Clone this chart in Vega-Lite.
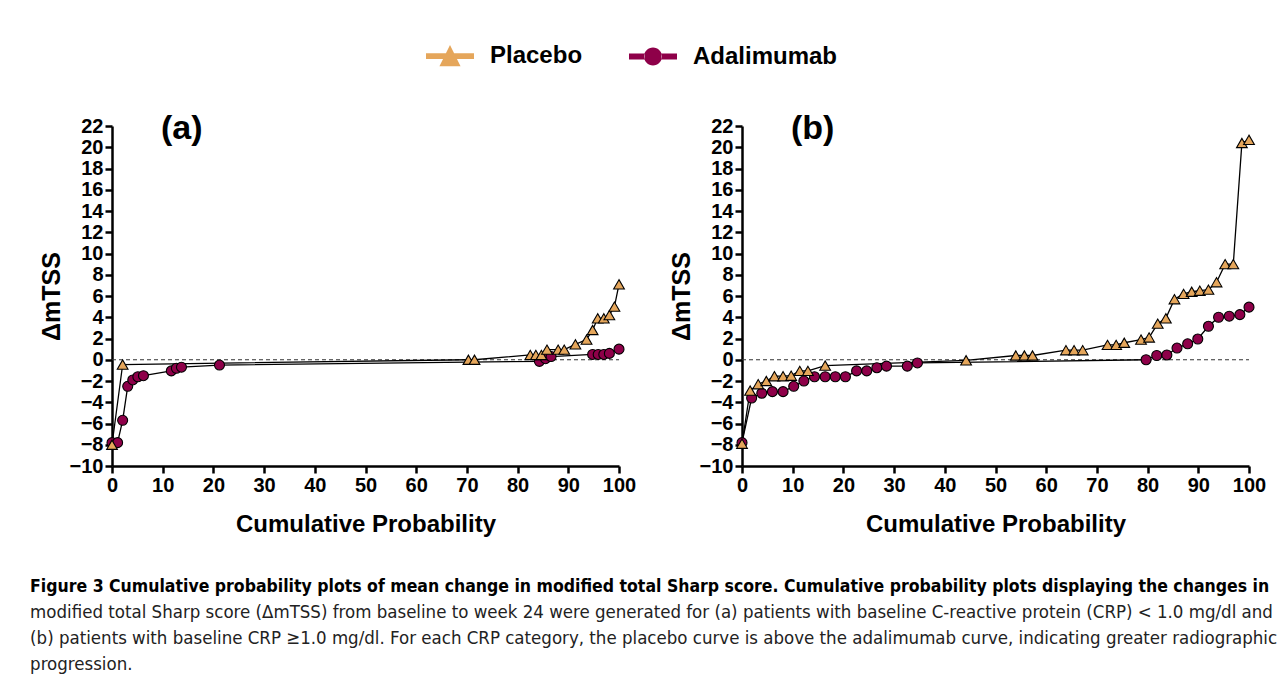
{
  "$schema": "https://vega.github.io/schema/vega-lite/v6.json",
  "background": "white",
  "padding": {"left": 30, "top": 31, "right": 14, "bottom": 6},
  "config": {
    "font": "Liberation Sans",
    "view": {"stroke": null},
    "axis": {"domainColor": "black", "domainWidth": 2.5, "tickColor": "black", "tickWidth": 2.5, "tickSize": 7, "labelFontSize": 20, "labelFontWeight": "bold", "labelColor": "black", "labelFlush": false, "labelOverlap": false, "labelBound": false, "grid": false, "titleFontSize": 25, "titleFontWeight": "bold", "titleColor": "black", "labelPadding": 2},
    "axisY": {"titlePadding": 5},
    "axisX": {"titlePadding": 17, "titleFontSize": 24}
  },
  "datasets": {
    "d": [
      {"panel": "a", "group": "Adalimumab", "p": 0, "v": -7.8},
      {"panel": "a", "group": "Adalimumab", "p": 1.1, "v": -7.8},
      {"panel": "a", "group": "Adalimumab", "p": 2.1, "v": -5.7},
      {"panel": "a", "group": "Adalimumab", "p": 3.1, "v": -2.5},
      {"panel": "a", "group": "Adalimumab", "p": 4.1, "v": -1.9},
      {"panel": "a", "group": "Adalimumab", "p": 5.1, "v": -1.6},
      {"panel": "a", "group": "Adalimumab", "p": 6.2, "v": -1.5},
      {"panel": "a", "group": "Adalimumab", "p": 11.7, "v": -1.05},
      {"panel": "a", "group": "Adalimumab", "p": 12.7, "v": -0.8},
      {"panel": "a", "group": "Adalimumab", "p": 13.7, "v": -0.7},
      {"panel": "a", "group": "Adalimumab", "p": 21.2, "v": -0.5},
      {"panel": "a", "group": "Adalimumab", "p": 84.3, "v": -0.15},
      {"panel": "a", "group": "Adalimumab", "p": 85.5, "v": 0.1},
      {"panel": "a", "group": "Adalimumab", "p": 86.6, "v": 0.3},
      {"panel": "a", "group": "Adalimumab", "p": 94.8, "v": 0.5},
      {"panel": "a", "group": "Adalimumab", "p": 95.9, "v": 0.5},
      {"panel": "a", "group": "Adalimumab", "p": 97.0, "v": 0.5},
      {"panel": "a", "group": "Adalimumab", "p": 98.1, "v": 0.6},
      {"panel": "a", "group": "Adalimumab", "p": 100, "v": 1.0},
      {"panel": "a", "group": "Placebo", "p": 0, "v": -8},
      {"panel": "a", "group": "Placebo", "p": 2.1, "v": -0.45},
      {"panel": "a", "group": "Placebo", "p": 70.3, "v": 0},
      {"panel": "a", "group": "Placebo", "p": 71.5, "v": 0},
      {"panel": "a", "group": "Placebo", "p": 82.5, "v": 0.45},
      {"panel": "a", "group": "Placebo", "p": 83.6, "v": 0.45},
      {"panel": "a", "group": "Placebo", "p": 84.7, "v": 0.45},
      {"panel": "a", "group": "Placebo", "p": 85.8, "v": 0.95},
      {"panel": "a", "group": "Placebo", "p": 88.0, "v": 0.95},
      {"panel": "a", "group": "Placebo", "p": 89.2, "v": 0.95},
      {"panel": "a", "group": "Placebo", "p": 91.4, "v": 1.45},
      {"panel": "a", "group": "Placebo", "p": 93.6, "v": 1.9},
      {"panel": "a", "group": "Placebo", "p": 94.8, "v": 2.8},
      {"panel": "a", "group": "Placebo", "p": 95.8, "v": 3.9},
      {"panel": "a", "group": "Placebo", "p": 97.0, "v": 3.9},
      {"panel": "a", "group": "Placebo", "p": 98.1, "v": 4.2},
      {"panel": "a", "group": "Placebo", "p": 99.1, "v": 5.0},
      {"panel": "a", "group": "Placebo", "p": 100, "v": 7.1},
      {"panel": "b", "group": "Adalimumab", "p": 0, "v": -7.8},
      {"panel": "b", "group": "Adalimumab", "p": 1.9, "v": -3.6},
      {"panel": "b", "group": "Adalimumab", "p": 3.9, "v": -3.15},
      {"panel": "b", "group": "Adalimumab", "p": 6.0, "v": -3.0},
      {"panel": "b", "group": "Adalimumab", "p": 8.1, "v": -3.0},
      {"panel": "b", "group": "Adalimumab", "p": 10.2, "v": -2.5},
      {"panel": "b", "group": "Adalimumab", "p": 12.2, "v": -2.0},
      {"panel": "b", "group": "Adalimumab", "p": 14.3, "v": -1.6},
      {"panel": "b", "group": "Adalimumab", "p": 16.4, "v": -1.6},
      {"panel": "b", "group": "Adalimumab", "p": 18.4, "v": -1.6},
      {"panel": "b", "group": "Adalimumab", "p": 20.4, "v": -1.6},
      {"panel": "b", "group": "Adalimumab", "p": 22.6, "v": -1.05},
      {"panel": "b", "group": "Adalimumab", "p": 24.6, "v": -1.05},
      {"panel": "b", "group": "Adalimumab", "p": 26.6, "v": -0.75},
      {"panel": "b", "group": "Adalimumab", "p": 28.5, "v": -0.6},
      {"panel": "b", "group": "Adalimumab", "p": 32.6, "v": -0.6},
      {"panel": "b", "group": "Adalimumab", "p": 34.6, "v": -0.3},
      {"panel": "b", "group": "Adalimumab", "p": 79.7, "v": 0},
      {"panel": "b", "group": "Adalimumab", "p": 81.8, "v": 0.4},
      {"panel": "b", "group": "Adalimumab", "p": 83.8, "v": 0.45},
      {"panel": "b", "group": "Adalimumab", "p": 85.8, "v": 1.1},
      {"panel": "b", "group": "Adalimumab", "p": 87.9, "v": 1.5},
      {"panel": "b", "group": "Adalimumab", "p": 89.9, "v": 1.95},
      {"panel": "b", "group": "Adalimumab", "p": 92.0, "v": 3.15},
      {"panel": "b", "group": "Adalimumab", "p": 94.0, "v": 4.0},
      {"panel": "b", "group": "Adalimumab", "p": 96.1, "v": 4.1},
      {"panel": "b", "group": "Adalimumab", "p": 98.2, "v": 4.25},
      {"panel": "b", "group": "Adalimumab", "p": 100, "v": 4.95},
      {"panel": "b", "group": "Placebo", "p": 0, "v": -7.9},
      {"panel": "b", "group": "Placebo", "p": 1.6, "v": -2.9},
      {"panel": "b", "group": "Placebo", "p": 3.2, "v": -2.3},
      {"panel": "b", "group": "Placebo", "p": 4.8, "v": -2.0},
      {"panel": "b", "group": "Placebo", "p": 6.4, "v": -1.55},
      {"panel": "b", "group": "Placebo", "p": 8.1, "v": -1.55},
      {"panel": "b", "group": "Placebo", "p": 9.7, "v": -1.5},
      {"panel": "b", "group": "Placebo", "p": 11.4, "v": -1.05},
      {"panel": "b", "group": "Placebo", "p": 13.0, "v": -1.05},
      {"panel": "b", "group": "Placebo", "p": 16.4, "v": -0.55},
      {"panel": "b", "group": "Placebo", "p": 44.2, "v": -0.05},
      {"panel": "b", "group": "Placebo", "p": 54.0, "v": 0.4},
      {"panel": "b", "group": "Placebo", "p": 55.7, "v": 0.4},
      {"panel": "b", "group": "Placebo", "p": 57.3, "v": 0.4},
      {"panel": "b", "group": "Placebo", "p": 63.9, "v": 0.9},
      {"panel": "b", "group": "Placebo", "p": 65.5, "v": 0.9},
      {"panel": "b", "group": "Placebo", "p": 67.2, "v": 0.9},
      {"panel": "b", "group": "Placebo", "p": 72.1, "v": 1.4},
      {"panel": "b", "group": "Placebo", "p": 73.8, "v": 1.4},
      {"panel": "b", "group": "Placebo", "p": 75.4, "v": 1.6},
      {"panel": "b", "group": "Placebo", "p": 78.7, "v": 1.9},
      {"panel": "b", "group": "Placebo", "p": 80.3, "v": 2.1},
      {"panel": "b", "group": "Placebo", "p": 82.0, "v": 3.4},
      {"panel": "b", "group": "Placebo", "p": 83.6, "v": 3.9},
      {"panel": "b", "group": "Placebo", "p": 85.3, "v": 5.7},
      {"panel": "b", "group": "Placebo", "p": 87.1, "v": 6.2},
      {"panel": "b", "group": "Placebo", "p": 88.7, "v": 6.4},
      {"panel": "b", "group": "Placebo", "p": 90.3, "v": 6.5},
      {"panel": "b", "group": "Placebo", "p": 92.0, "v": 6.6},
      {"panel": "b", "group": "Placebo", "p": 93.6, "v": 7.3},
      {"panel": "b", "group": "Placebo", "p": 95.3, "v": 9.0},
      {"panel": "b", "group": "Placebo", "p": 96.9, "v": 9.0},
      {"panel": "b", "group": "Placebo", "p": 98.6, "v": 20.4},
      {"panel": "b", "group": "Placebo", "p": 100, "v": 20.7}
    ]
  },
  "title": {
    "text": "Figure 3 Cumulative probability plots of mean change in modified total Sharp score. Cumulative probability plots displaying the changes in",
    "subtitle": [
      "modified total Sharp score (ΔmTSS) from baseline to week 24 were generated for (a) patients with baseline C-reactive protein (CRP) < 1.0 mg/dl and",
      "(b) patients with baseline CRP ≥1.0 mg/dl. For each CRP category, the placebo curve is above the adalimumab curve, indicating greater radiographic",
      "progression."
    ],
    "orient": "bottom",
    "anchor": "start",
    "frame": "bounds",
    "dx": -9,
    "offset": 42,
    "font": "DejaVu Sans Condensed, Roboto Condensed, Liberation Sans Narrow, Liberation Sans, sans-serif",
    "fontSize": 17.5,
    "fontWeight": "bold",
    "color": "black",
    "subtitleFont": "DejaVu Sans Condensed, Roboto Condensed, Liberation Sans Narrow, Liberation Sans, sans-serif",
    "subtitleFontSize": 18.5,
    "subtitleFontWeight": "normal",
    "subtitleColor": "#222222",
    "subtitleLineHeight": 26,
    "subtitlePadding": 7
  },
  "spacing": 33,
  "hconcat": [
    {
      "width": 507,
      "height": 340,
      "title": {"text": "(a)", "anchor": "start", "frame": "group", "dx": 49, "offset": -30, "fontSize": 34, "fontWeight": "bold", "color": "black"},
      "layer": [
        {
          "data": {"values": [{}]},
          "mark": {"type": "rule", "strokeDash": [4, 3], "color": "#333333", "strokeWidth": 1.2},
          "encoding": {
            "x": {"datum": 0, "type": "quantitative", "scale": {"domain": [0, 100], "nice": false, "zero": false}, "title": "Cumulative Probability", "axis": {"values": [0, 10, 20, 30, 40, 50, 60, 70, 80, 90, 100]}},
            "x2": {"datum": 100},
            "y": {"datum": 0, "type": "quantitative", "scale": {"domain": [-10, 22], "nice": false, "zero": false}, "title": "ΔmTSS", "axis": {"values": [-10, -8, -6, -4, -2, 0, 2, 4, 6, 8, 10, 12, 14, 16, 18, 20, 22]}}
          }
        },
        {
          "data": {"name": "d"},
          "transform": [{"filter": "datum.panel === 'a'"}],
          "mark": {"type": "line", "color": "black", "strokeWidth": 1.3},
          "encoding": {
            "x": {"field": "p", "type": "quantitative", "scale": {"domain": [0, 100], "nice": false, "zero": false}, "title": "Cumulative Probability", "axis": {"values": [0, 10, 20, 30, 40, 50, 60, 70, 80, 90, 100]}},
            "y": {"field": "v", "type": "quantitative", "scale": {"domain": [-10, 22], "nice": false, "zero": false}, "title": "ΔmTSS", "axis": {"values": [-10, -8, -6, -4, -2, 0, 2, 4, 6, 8, 10, 12, 14, 16, 18, 20, 22]}},
            "detail": {"field": "group"}
          }
        },
        {
          "data": {"name": "d"},
          "transform": [{"filter": "datum.panel === 'a' && datum.group === 'Adalimumab'"}],
          "mark": {"type": "point", "shape": "circle", "filled": true, "color": "#8E0049", "stroke": "black", "strokeWidth": 1.1, "opacity": 1, "size": 100},
          "encoding": {
            "x": {"field": "p", "type": "quantitative", "scale": {"domain": [0, 100], "nice": false, "zero": false}, "title": "Cumulative Probability", "axis": {"values": [0, 10, 20, 30, 40, 50, 60, 70, 80, 90, 100]}},
            "y": {"field": "v", "type": "quantitative", "scale": {"domain": [-10, 22], "nice": false, "zero": false}, "title": "ΔmTSS", "axis": {"values": [-10, -8, -6, -4, -2, 0, 2, 4, 6, 8, 10, 12, 14, 16, 18, 20, 22]}}
          }
        },
        {
          "data": {"name": "d"},
          "transform": [{"filter": "datum.panel === 'a' && datum.group === 'Placebo'"}],
          "mark": {"type": "point", "shape": "triangle-up", "filled": true, "color": "#E5A65B", "stroke": "black", "strokeWidth": 1.1, "opacity": 1, "size": 115},
          "encoding": {
            "x": {"field": "p", "type": "quantitative", "scale": {"domain": [0, 100], "nice": false, "zero": false}, "title": "Cumulative Probability", "axis": {"values": [0, 10, 20, 30, 40, 50, 60, 70, 80, 90, 100]}},
            "y": {"field": "v", "type": "quantitative", "scale": {"domain": [-10, 22], "nice": false, "zero": false}, "title": "ΔmTSS", "axis": {"values": [-10, -8, -6, -4, -2, 0, 2, 4, 6, 8, 10, 12, 14, 16, 18, 20, 22]}}
          }
        },
        {
          "data": {"name": "d"},
          "transform": [{"filter": "false"}],
          "mark": {"type": "point", "filled": true, "stroke": "black", "strokeWidth": 1.3, "opacity": 1},
          "encoding": {
            "color": {"field": "group", "type": "nominal", "scale": {"domain": ["Placebo", "Adalimumab"], "range": ["#E5A65B", "#8E0049"]},
              "legend": {"title": null, "orient": "none", "legendX": 313, "legendY": -95, "direction": "horizontal", "labelFontSize": 24, "labelFontWeight": "bold", "labelColor": "black", "symbolSize": 2304, "symbolStrokeColor": "black", "symbolStrokeWidth": 1.3, "symbolOpacity": 1, "labelOffset": 15, "columnPadding": 43}},
            "shape": {"field": "group", "type": "nominal", "scale": {"domain": ["Placebo", "Adalimumab"], "range": ["M-1,-0.12L-0.15,-0.12L-0.27,0.12L-1,0.12Z M0.15,-0.12L1,-0.12L1,0.12L0.27,0.12Z M-0.44,0.42L0,-0.46L0.44,0.42Z", "M-1,-0.12L-0.355,-0.12L-0.355,0.12L-1,0.12Z M0.355,-0.12L1,-0.12L1,0.12L0.355,0.12Z M-0.375,0A0.375,0.375 0 1,0 0.375,0A0.375,0.375 0 1,0 -0.375,0Z"]},
              "legend": {"title": null, "orient": "none", "legendX": 313, "legendY": -95, "direction": "horizontal", "labelFontSize": 24, "labelFontWeight": "bold", "labelColor": "black", "symbolSize": 2304, "symbolStrokeColor": "black", "symbolStrokeWidth": 1.3, "symbolOpacity": 1, "labelOffset": 15, "columnPadding": 43}}
          }
        }
      ]
    },
    {
      "width": 507,
      "height": 340,
      "title": {"text": "(b)", "anchor": "start", "frame": "group", "dx": 49, "offset": -30, "fontSize": 34, "fontWeight": "bold", "color": "black"},
      "layer": [
        {
          "data": {"values": [{}]},
          "mark": {"type": "rule", "strokeDash": [4, 3], "color": "#333333", "strokeWidth": 1.2},
          "encoding": {
            "x": {"datum": 0, "type": "quantitative", "scale": {"domain": [0, 100], "nice": false, "zero": false}, "title": "Cumulative Probability", "axis": {"values": [0, 10, 20, 30, 40, 50, 60, 70, 80, 90, 100]}},
            "x2": {"datum": 100},
            "y": {"datum": 0, "type": "quantitative", "scale": {"domain": [-10, 22], "nice": false, "zero": false}, "title": "ΔmTSS", "axis": {"values": [-10, -8, -6, -4, -2, 0, 2, 4, 6, 8, 10, 12, 14, 16, 18, 20, 22]}}
          }
        },
        {
          "data": {"name": "d"},
          "transform": [{"filter": "datum.panel === 'b'"}],
          "mark": {"type": "line", "color": "black", "strokeWidth": 1.3},
          "encoding": {
            "x": {"field": "p", "type": "quantitative", "scale": {"domain": [0, 100], "nice": false, "zero": false}, "title": "Cumulative Probability", "axis": {"values": [0, 10, 20, 30, 40, 50, 60, 70, 80, 90, 100]}},
            "y": {"field": "v", "type": "quantitative", "scale": {"domain": [-10, 22], "nice": false, "zero": false}, "title": "ΔmTSS", "axis": {"values": [-10, -8, -6, -4, -2, 0, 2, 4, 6, 8, 10, 12, 14, 16, 18, 20, 22]}},
            "detail": {"field": "group"}
          }
        },
        {
          "data": {"name": "d"},
          "transform": [{"filter": "datum.panel === 'b' && datum.group === 'Adalimumab'"}],
          "mark": {"type": "point", "shape": "circle", "filled": true, "color": "#8E0049", "stroke": "black", "strokeWidth": 1.1, "opacity": 1, "size": 100},
          "encoding": {
            "x": {"field": "p", "type": "quantitative", "scale": {"domain": [0, 100], "nice": false, "zero": false}, "title": "Cumulative Probability", "axis": {"values": [0, 10, 20, 30, 40, 50, 60, 70, 80, 90, 100]}},
            "y": {"field": "v", "type": "quantitative", "scale": {"domain": [-10, 22], "nice": false, "zero": false}, "title": "ΔmTSS", "axis": {"values": [-10, -8, -6, -4, -2, 0, 2, 4, 6, 8, 10, 12, 14, 16, 18, 20, 22]}}
          }
        },
        {
          "data": {"name": "d"},
          "transform": [{"filter": "datum.panel === 'b' && datum.group === 'Placebo'"}],
          "mark": {"type": "point", "shape": "triangle-up", "filled": true, "color": "#E5A65B", "stroke": "black", "strokeWidth": 1.1, "opacity": 1, "size": 115},
          "encoding": {
            "x": {"field": "p", "type": "quantitative", "scale": {"domain": [0, 100], "nice": false, "zero": false}, "title": "Cumulative Probability", "axis": {"values": [0, 10, 20, 30, 40, 50, 60, 70, 80, 90, 100]}},
            "y": {"field": "v", "type": "quantitative", "scale": {"domain": [-10, 22], "nice": false, "zero": false}, "title": "ΔmTSS", "axis": {"values": [-10, -8, -6, -4, -2, 0, 2, 4, 6, 8, 10, 12, 14, 16, 18, 20, 22]}}
          }
        }
      ]
    }
  ]
}
